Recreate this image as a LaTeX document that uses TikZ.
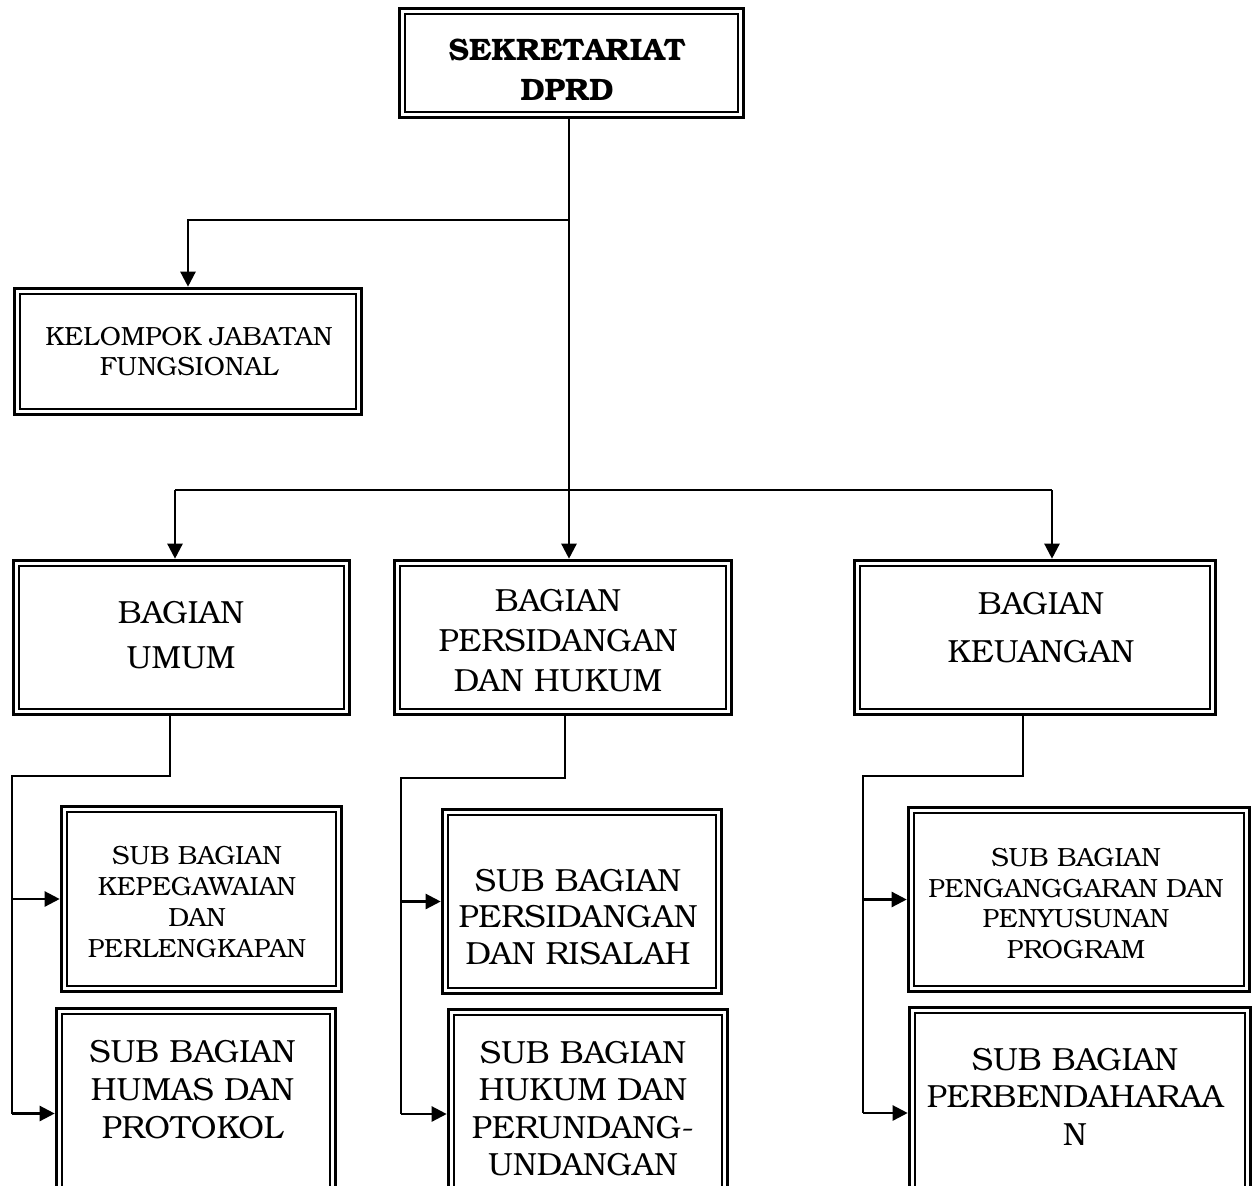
\documentclass[tikz,border=0pt]{standalone}
\usepackage{fontspec}
\setmainfont{TeX Gyre Bonum}
\usetikzlibrary{arrows.meta,calc}
\tikzset{
  orgbox/.style={draw, line width=3.6pt, inner sep=0pt,
    path picture={\draw[line width=1.9pt]
      ([xshift=5.5pt,yshift=-5.5pt]path picture bounding box.north west) rectangle
      ([xshift=-5.5pt,yshift=5.5pt]path picture bounding box.south east);}},
  conn/.style={line width=2.4pt},
  arr/.style={conn, -{Triangle[length=15pt,width=15pt]}},
  txt/.style={align=center, inner sep=0pt},
}
\begin{document}
\begin{tikzpicture}[x=1pt,y=-1pt]
\useasboundingbox (0,0) rectangle (1253,1186);
\clip (0,0) rectangle (1253,1186);
% boxes
\node[orgbox, minimum width=344pt, minimum height=109pt] (top) at (571.5,63) {};
\node[orgbox, minimum width=347pt, minimum height=126pt] (kel) at (188,351.5) {};
\node[orgbox, minimum width=336pt, minimum height=154pt] (umum) at (181.5,637.5) {};
\node[orgbox, minimum width=337pt, minimum height=154pt] (pers) at (563,637.5) {};
\node[orgbox, minimum width=361pt, minimum height=154pt] (keu) at (1035,637.5) {};
\node[orgbox, minimum width=280pt, minimum height=185pt] (s1) at (201.5,899) {};
\node[orgbox, minimum width=279pt, minimum height=210pt] (s2) at (196,1113.5) {};
\node[orgbox, minimum width=279pt, minimum height=184pt] (s3) at (582,901.5) {};
\node[orgbox, minimum width=279pt, minimum height=209pt] (s4) at (588,1114) {};
\node[orgbox, minimum width=341pt, minimum height=184pt] (s5) at (1079,899.5) {};
\node[orgbox, minimum width=341pt, minimum height=211pt] (s6) at (1080,1113) {};
% texts
\node[txt, font=\fontsize{31}{40}\selectfont\bfseries] (topT) at (567,70) {SEKRETARIAT\\DPRD};
\node[txt, font=\fontsize{26.3}{30.5}\selectfont] (kelT) at (189,351.5) {KELOMPOK JABATAN\\FUNGSIONAL};
\node[txt, font=\fontsize{32}{45}\selectfont] (umumT) at (181,635) {BAGIAN\\UMUM};
\node[txt, font=\fontsize{32}{40}\selectfont] (persT) at (558,641) {BAGIAN\\PERSIDANGAN\\DAN HUKUM};
\node[txt, font=\fontsize{32}{48}\selectfont] (keuT) at (1041,627.5) {BAGIAN\\KEUANGAN};
\node[txt, font=\fontsize{26.3}{31.3}\selectfont] (s1T) at (197,902) {SUB BAGIAN\\KEPEGAWAIAN\\DAN\\PERLENGKAPAN};
\node[txt, font=\fontsize{32}{38}\selectfont] (s2T) at (192.5,1090) {SUB BAGIAN\\HUMAS DAN\\PROTOKOL};
\node[txt, font=\fontsize{32}{36.5}\selectfont] (s3T) at (578,917) {SUB BAGIAN\\PERSIDANGAN\\DAN RISALAH};
\node[txt, font=\fontsize{32}{37.3}\selectfont] (s4T) at (583,1108.5) {SUB BAGIAN\\HUKUM DAN\\PERUNDANG-\\UNDANGAN};
\node[txt, font=\fontsize{26.3}{30.5}\selectfont] (s5T) at (1076,903.5) {SUB BAGIAN\\PENGANGGARAN DAN\\PENYUSUNAN\\PROGRAM};
\node[txt, font=\fontsize{32}{37.5}\selectfont] (s6T) at (1075,1096.5) {SUB BAGIAN\\PERBENDAHARAA\\N};
% junction coordinates
\coordinate (tx) at (569,0);
\coordinate (j1) at (569,220);
\coordinate (b1) at (175,490);
\coordinate (b2) at (1052,490);
\coordinate (uL) at (170,776);
\coordinate (uV) at (12,776);
\coordinate (pL) at (565,778);
\coordinate (pV) at (401,778);
\coordinate (kL) at (1023,776);
\coordinate (kV) at (863,776);
% top connectors
\draw[arr] (top.south -| tx) -- (pers.north -| tx);
\draw[arr] (j1) -| (kel.north);
\draw[conn] (b1) -- (b2);
\draw[arr] (b1) -- (umum.north -| b1);
\draw[arr] (b2) -- (keu.north -| b2);
% umum branch
\draw[conn] (umum.south -| uL) -- (uL) -- (uV) -- (uV |- s2.west);
\draw[arr] (uV |- s1.west) -- (s1.west);
\draw[arr] (uV |- s2.west) -- (s2.west);
% persidangan branch
\draw[conn] (pers.south -| pL) -- (pL) -- (pV) -- (pV |- s4.west);
\draw[arr] (pV |- s3.west) -- (s3.west);
\draw[arr] (pV |- s4.west) -- (s4.west);
% keuangan branch
\draw[conn] (keu.south -| kL) -- (kL) -- (kV) -- (kV |- s6.west);
\draw[arr] (kV |- s5.west) -- (s5.west);
\draw[arr] (kV |- s6.west) -- (s6.west);
\end{tikzpicture}
\end{document}
